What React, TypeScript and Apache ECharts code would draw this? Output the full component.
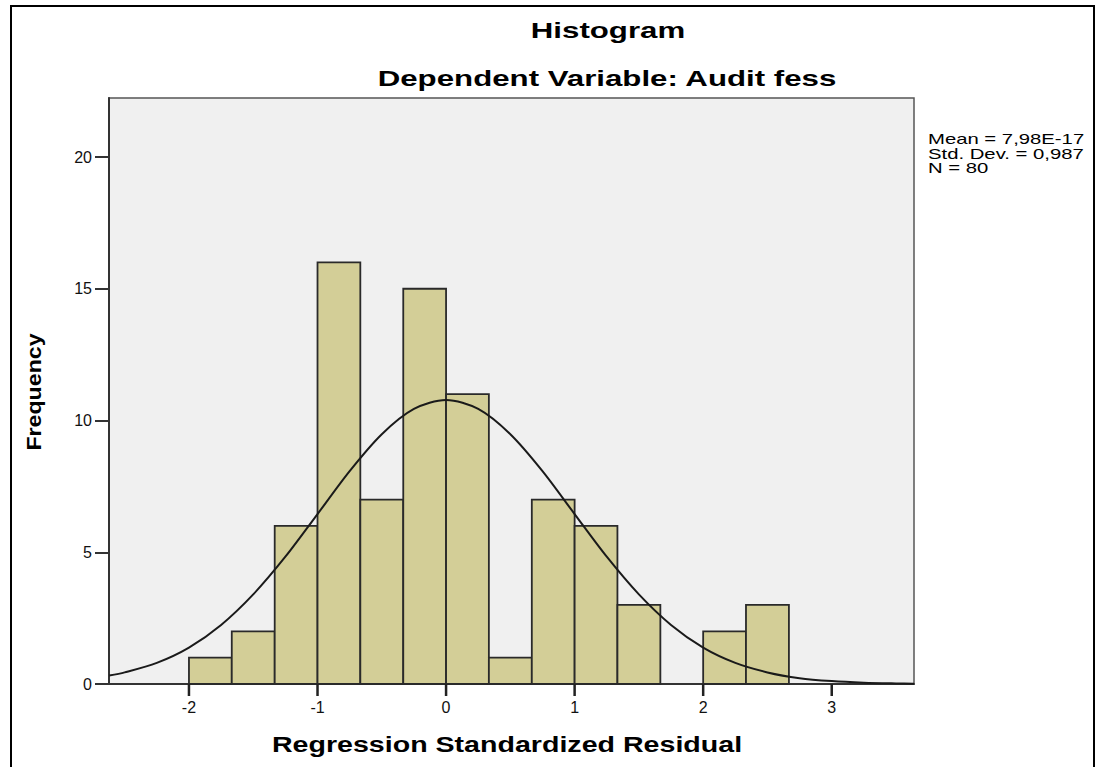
import React, { useEffect, useRef } from "react";
import * as echarts from "echarts";

// Histogram bins (Regression Standardized Residual), width 1/3
const binEdges = [-2, -1.667, -1.333, -1, -0.667, -0.333, 0, 0.333, 0.667, 1, 1.333, 1.667, 2, 2.333, 2.667];
const frequencies = [1, 2, 6, 16, 7, 15, 11, 1, 7, 6, 3, 0, 2, 3];

// Normal curve points
const curveX = [-2.62, -2.5, -2.25, -2, -1.75, -1.5, -1.25, -1, -0.75, -0.5, -0.25, 0, 0.25, 0.5, 0.75, 1, 1.25, 1.5, 1.75, 2, 2.25, 2.5, 2.75, 3, 3.25, 3.5, 3.64];
const curveY = [0.32, 0.44, 0.8, 1.38, 2.24, 3.4, 4.83, 6.45, 8.08, 9.48, 10.44, 10.78, 10.44, 9.48, 8.08, 6.45, 4.83, 3.4, 2.24, 1.38, 0.8, 0.44, 0.22, 0.11, 0.05, 0.02, 0.01];

const xTicks = [-2, -1, 0, 1, 2, 3];
const yTicks = [0, 5, 10, 15, 20];

const titleText = "Histogram";
const subtitleText = "Dependent Variable: Audit fess";
const xName = "Regression Standardized Residual";
const yName = "Frequency";
const statsLines = ["Mean = 7,98E-17", "Std. Dev. = 0,987", "N = 80"];

export default function App() {
  const ref = useRef<HTMLDivElement>(null);
  useEffect(() => {
    if (!ref.current) return;
    const chart = echarts.init(ref.current, null, { renderer: "svg" });
    const bins = frequencies.map((f, i) => [binEdges[i], binEdges[i + 1], f]);
    const curve = curveX.map((x, i) => [x, curveY[i]]);
    const font = "Liberation Sans, Arial, sans-serif";
    chart.setOption({
      animation: false,
      backgroundColor: "#ffffff",
      grid: {
        left: 109,
        top: 98,
        right: 187,
        bottom: 83,
        show: true,
        backgroundColor: "#f0f0f0",
        borderColor: "#555555",
        borderWidth: 1.5,
      },
      xAxis: {
        type: "value",
        min: -2.622,
        max: 3.64,
        axisLine: { show: true, onZero: false, lineStyle: { color: "#333333", width: 2 } },
        axisTick: { show: false },
        axisLabel: { customValues: xTicks, margin: 15, color: "#111111", fontSize: 16, fontFamily: font },
        splitLine: { show: false },
      },
      yAxis: {
        type: "value",
        min: 0,
        max: 22.24,
        axisLine: { show: true, onZero: false, lineStyle: { color: "#333333", width: 2 } },
        axisTick: { show: true, inside: false, length: 14, customValues: yTicks, lineStyle: { color: "#333333", width: 2 } },
        axisLabel: { customValues: yTicks, margin: 17, color: "#111111", fontSize: 16, fontFamily: font },
        splitLine: { show: false },
      },
      series: [
        {
          type: "custom",
          data: bins,
          renderItem: (params: any, api: any) => {
            const c = api.value(2);
            if (!c) return null;
            const p0 = api.coord([api.value(0), c]);
            const p1 = api.coord([api.value(1), 0]);
            return {
              type: "rect",
              shape: { x: p0[0], y: p0[1], width: p1[0] - p0[0], height: p1[1] - p0[1] },
              style: { fill: "#d3ce97", stroke: "#2a2a2a", lineWidth: 1.8 },
            };
          },
          z: 2,
        },
        {
          type: "line",
          data: curve,
          smooth: 0.3,
          showSymbol: false,
          symbol: "none",
          lineStyle: { color: "#1a1a1a", width: 2 },
          z: 3,
        },
        {
          type: "custom",
          clip: false,
          silent: true,
          data: xTicks.map((v) => [v, 0]),
          renderItem: (params: any, api: any) => {
            const p = api.coord([api.value(0), 0]);
            return {
              type: "rect",
              shape: { x: p[0] - 1.25, y: p[1], width: 2.5, height: 12 },
              style: { fill: "#222222" },
            };
          },
          z: 4,
        },
      ],
      graphic: [
        {
          type: "rect",
          shape: { x: 11, y: 6, width: 1083, height: 780 },
          style: { fill: "none", stroke: "#000000", lineWidth: 2 },
          z: 0,
        },
        {
          type: "text",
          x: 608,
          y: 31,
          scaleX: 1.42,
          style: { text: titleText, font: "bold 22px " + font, fill: "#000000", textAlign: "center", textVerticalAlign: "middle" },
        },
        {
          type: "text",
          x: 607,
          y: 79,
          scaleX: 1.42,
          style: { text: subtitleText, font: "bold 22px " + font, fill: "#000000", textAlign: "center", textVerticalAlign: "middle" },
        },
        {
          type: "text",
          x: 507,
          y: 744,
          scaleX: 1.3,
          style: { text: xName, font: "bold 22px " + font, fill: "#000000", textAlign: "center", textVerticalAlign: "middle" },
        },
        {
          type: "text",
          x: 34,
          y: 392,
          rotation: Math.PI / 2,
          scaleX: 1.16,
          style: { text: yName, font: "bold 20px " + font, fill: "#000000", textAlign: "center", textVerticalAlign: "middle" },
        },
        {
          type: "text",
          x: 928,
          y: 132,
          scaleX: 1.45,
          style: {
            text: statsLines.join("\n"),
            font: "14px " + font,
            lineHeight: 14.5,
            fill: "#000000",
            textAlign: "left",
            textVerticalAlign: "top",
          },
        },
      ],
    });
    return () => chart.dispose();
  }, []);
  return (
    <div
      ref={ref}
      style={{ position: "absolute", left: 0, top: 0, width: 1101, height: 767 }}
    />
  );
}
